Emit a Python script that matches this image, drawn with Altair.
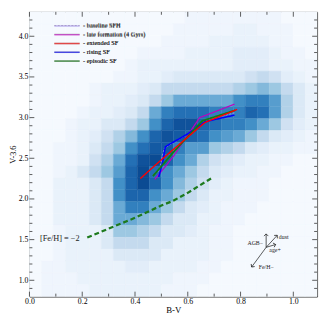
import math
import altair as alt
import pandas as pd

# ---------------- data ----------------
XMIN, XMAX = 0.0, 1.09
YMIN, YMAX = 0.8, 4.3

# binned density (rows from top = high V-3.6, columns from left = low B-V), level 0..9
DENSITY = [
    [0,0,0,0,0,0,0,0,0,0,0,0,0,0.5,0.5,0.5,0.5,0.5,0.5,0.5,0.5,0,0,0],
    [0,0,0,0,0,0,0,0,0,0,0,0,0.5,0.5,0.5,0.5,0.5,1,1,0.5,0.5,0.5,0,0],
    [0,0,0,0,0,0,0,0,0,0,0,0.5,0.5,0.5,0.5,1,1,1,1,1,0.5,0.5,0,0],
    [0,0,0,0,0,0,0,0,0,0.5,0.5,0.5,0.5,1,1,1,1,1.5,1.5,1.5,1,0.5,0.5,0],
    [0,0,0,0,0,0,0,0,0.5,1,1,1,1,1,1,1,1,1.5,1.5,1.5,1,1,0.5,0.5],
    [0,0,0,0,0,0,0,0.5,0.5,1,1,1.5,2,2,2,2,2,2,2.5,3,2.5,1.5,1,0.5],
    [0,0,0,0,0,0.5,1,1,1,1.5,2,3,3,3,3,3,3,3.5,4,4.5,4,3,2,1],
    [0,0,0,0,0,0.5,1,1,1.5,2,3,4,5,5,5,5,5,6,6.5,6.5,5.5,3.5,2,1],
    [0,0,0,0,0.5,1,1,1.5,2,3,5,6.5,7,7,7,6.5,6.5,6.5,7.5,7,5.5,3.5,2,1],
    [0,0,0,0.5,1,1,2,2,3,4,6,7.5,8.5,8.5,7.5,7,6.5,6.5,6,5,4,2.5,1.5,1],
    [0,0,0,0.5,1,1.5,2.5,3.5,4.5,6,7.5,8.5,8,7.5,7,6,5.5,5,4,3,2,1.5,1,0.5],
    [0,0,0.5,0.5,1,2,3,4,6,7,8,8,6.5,5.5,5.5,4,3.5,3,2,1.5,1,1,0.5,0.5],
    [0,0,0.5,0.5,1,2.5,3.5,5,7,8.5,9,7.5,6,5,3.5,2.5,2,1.5,1,1,0.5,0.5,0,0],
    [0,0,0.5,1,2,3,4,5.5,7.5,9,7,6,5,4,3,2,1.5,1,1,0.5,0.5,0,0,0],
    [0,0,1,1,1,2,3,6,7.5,9,7.5,6,4.5,3.5,2.5,1.5,1,0.5,0.5,0.5,0,0,0,0],
    [0,0,1,1,1,2,3,6,7.5,7.5,6,5,4,3,2,1,1,0.5,0.5,0.5,0,0,0,0],
    [0,0,1,1,1,2,3,5,6.5,6.5,5,4,3,2,1.5,1,0.5,0.5,0.5,0,0,0,0,0],
    [0,0,1,1,1,2,3,5,5,4.5,4,3,2,2,1,1,0.5,0.5,0,0,0,0,0,0],
    [0,0,0.5,1,1,1,2,4,4,3.5,3,2,2,1.5,1,0.5,0.5,0,0,0,0,0,0,0],
    [0,0,0.5,1,1,1,2,3,3,3,2,2,1,1,1,0.5,0.5,0,0,0,0,0,0,0],
    [0,0,0.5,1,1,1,1,2,2,2,2,1,1,1,1,0.5,0.5,0,0,0,0,0,0,0],
    [0,0.5,0.5,1,1,1,1,1,1.5,1.5,1,1,1,1,0.5,0.5,0,0,0,0,0,0,0,0],
    [0,0.5,0.5,0.5,1,1,1,1,1,1,1,1,0.5,0.5,0.5,0,0,0,0,0,0,0,0,0],
    [0,0.5,0.5,0.5,0.5,1,1,1,1,1,1,0.5,0.5,0.5,0,0,0,0,0,0,0,0,0,0],
]

MODELS = ["baseline SFH", "late formation (4 Gyrs)", "extended SF", "rising SF", "episodic SF"]

BASELINE_BV = [0.49, 0.51, 0.60, 0.66, 0.78]
BASELINE_V36 = [2.33, 2.62, 2.80, 2.96, 3.06]
LATE_BV = [0.475, 0.545, 0.645, 0.777]
LATE_V36 = [2.24, 2.52, 3.00, 3.165]
EXTENDED_BV = [0.42, 0.475, 0.535, 0.60, 0.665, 0.787]
EXTENDED_V36 = [2.25, 2.41, 2.58, 2.76, 2.94, 3.10]
RISING_BV = [0.49, 0.505, 0.515, 0.53, 0.60, 0.665, 0.777]
RISING_V36 = [2.27, 2.45, 2.64, 2.67, 2.80, 2.95, 3.03]
EPISODIC_BV = [0.468, 0.547, 0.655, 0.78]
EPISODIC_V36 = [2.28, 2.58, 2.96, 3.09]

FEH_BV = [0.219, 0.30, 0.40, 0.50, 0.54, 0.60, 0.64, 0.69]
FEH_V36 = [1.525, 1.635, 1.768, 1.92, 1.97, 2.075, 2.156, 2.255]
FEH_LABEL = "[Fe/H] = \u22122"
FEH_LABEL_BV, FEH_LABEL_V36 = 0.04, 1.514

VEC_ORIGIN = (0.897, 1.405)
VEC_NAMES = ["AGB", "dust", "age", "Fe/H"]
VEC_END_BV = [0.897, 0.939, 0.933, 0.842]
VEC_END_V36 = [1.57, 1.553, 1.44, 1.163]
VEC_LABELS = ["AGB\u2212", "dust", "age+", "Fe/H\u2212"]
VEC_LABEL_BV = [0.826, 0.945, 0.909, 0.869]
VEC_LABEL_V36 = [1.463, 1.526, 1.37, 1.164]

X_MAJOR = [0.0, 0.2, 0.4, 0.6, 0.8, 1.0]
X_MINOR = [0.1, 0.3, 0.5, 0.7, 0.9]
Y_MAJOR = [1.0, 1.5, 2.0, 2.5, 3.0, 3.5, 4.0]
Y_MINOR = [0.9, 1.1, 1.2, 1.3, 1.4, 1.6, 1.7, 1.8, 1.9, 2.1, 2.2, 2.3, 2.4,
           2.6, 2.7, 2.8, 2.9, 3.1, 3.2, 3.3, 3.4, 3.6, 3.7, 3.8, 3.9, 4.1, 4.2]

# ---------------- style ----------------
W, H = 295, 292
FONT = "Liberation Serif"
TICK = "#333333"
BLUES_STOPS = [0, 1, 2, 3, 4, 5, 6, 7, 8, 9]
BLUES = ["#f5f9fe", "#e9f2fb", "#dbe9f6", "#c4daee", "#9dc8e2", "#6aaad5",
         "#4290c7", "#2470b5", "#145aa3", "#0b4b93"]
LINE_COLORS = ["#9d86e8", "#bf00bf", "#ff0000", "#0000ff", "#118011"]
LINE_WIDTHS = [1.0, 1.8, 2.3, 1.7, 2.0]
LINE_DASH = [[2, 1.5], [1, 0], [1, 0], [1, 0], [1, 0]]

xs = alt.Scale(domain=[XMIN, XMAX], nice=False, zero=False)
ys = alt.Scale(domain=[YMIN, YMAX], nice=False, zero=False)

XAX = alt.Axis(values=X_MAJOR, format=".1f", ticks=False, domain=False, grid=False,
               labelFont=FONT, labelFontSize=8, labelColor="#000", labelPadding=1,
               labelFlush=False, labelOverlap=False,
               title="B-V", titleFont=FONT, titleFontSize=9, titleFontWeight="normal",
               titleColor="#000", titlePadding=0)
YAX = alt.Axis(values=Y_MAJOR, format=".1f", ticks=False, domain=False, grid=False,
               labelFont=FONT, labelFontSize=8, labelColor="#000", labelPadding=1.5,
               labelFlush=False, labelOverlap=False,
               title="V-3.6", titleFont=FONT, titleFontSize=8.5, titleFontWeight="normal",
               titleColor="#000", titlePadding=0.5)


def X(field):
    return alt.X(field, scale=xs, axis=XAX, title="B-V")


def Y(field):
    return alt.Y(field, scale=ys, axis=YAX, title="V-3.6")


# ---------------- heatmap ----------------
nrows, ncols = len(DENSITY), len(DENSITY[0])
dx = (XMAX - XMIN) / ncols
dy = (YMAX - YMIN) / nrows
cells = []
for r, row in enumerate(DENSITY):
    for c, v in enumerate(row):
        cells.append({"x0": XMIN + c * dx, "x1": XMIN + (c + 1) * dx,
                      "y0": YMAX - (r + 1) * dy, "y1": YMAX - r * dy, "v": v})
cells = pd.DataFrame(cells)
cscale = alt.Scale(domain=BLUES_STOPS, range=BLUES)

heat = alt.Chart(cells).mark_rect(strokeWidth=0.4).encode(
    x=X("x0:Q"), x2="x1:Q", y=Y("y0:Q"), y2="y1:Q",
    color=alt.Color("v:Q", scale=cscale, legend=None),
    stroke=alt.Stroke("v:Q", scale=cscale, legend=None),
)

# ---------------- ticks (inside, all sides) ----------------
def xticks(vals, length):
    df = pd.DataFrame({"v": vals})
    base = alt.Chart(df).mark_rule(color=TICK, strokeWidth=0.8)
    bottom = base.encode(x=X("v:Q"), y=alt.value(H), y2=alt.value(H - length))
    top = base.encode(x=X("v:Q"), y=alt.value(0), y2=alt.value(length))
    return [bottom, top]


def yticks(vals, length):
    df = pd.DataFrame({"v": vals})
    base = alt.Chart(df).mark_rule(color=TICK, strokeWidth=0.8)
    left = base.encode(y=Y("v:Q"), x=alt.value(0), x2=alt.value(length))
    right = base.encode(y=Y("v:Q"), x=alt.value(W), x2=alt.value(W - length))
    return [left, right]


tick_layers = xticks(X_MAJOR, 5) + xticks(X_MINOR, 3) + yticks(Y_MAJOR, 5) + yticks(Y_MINOR, 3)

# ---------------- model tracks ----------------
series = [
    ("baseline SFH", BASELINE_BV, BASELINE_V36),
    ("late formation (4 Gyrs)", LATE_BV, LATE_V36),
    ("rising SF", RISING_BV, RISING_V36),
    ("episodic SF", EPISODIC_BV, EPISODIC_V36),
    ("extended SF", EXTENDED_BV, EXTENDED_V36),
]
rows = []
for name, bx, by in series:
    for i, (a, b) in enumerate(zip(bx, by)):
        rows.append({"model": name, "bv": a, "v36": b, "i": i})
lines_df = pd.DataFrame(rows)

leg = alt.Legend(title=None, orient="none", legendX=33, legendY=9,
                 symbolType="M-3,0H3", symbolSize=75, symbolOpacity=0.6,
                 labelFont=FONT, labelFontSize=6.5, labelColor="#333",
                 labelFontWeight="normal",
                 labelOffset=11, rowPadding=0, padding=0, labelLimit=0,
                 labelExpr="'- ' + datum.label")

lines = alt.Chart(lines_df).mark_line(strokeCap="butt").encode(
    x=X("bv:Q"), y=Y("v36:Q"),
    order=alt.Order("i:Q"),
    stroke=alt.Stroke("model:N", scale=alt.Scale(domain=MODELS, range=LINE_COLORS), legend=leg),
    strokeWidth=alt.StrokeWidth("model:N", scale=alt.Scale(domain=MODELS, range=LINE_WIDTHS), legend=leg),
    strokeDash=alt.StrokeDash("model:N", scale=alt.Scale(domain=MODELS, range=LINE_DASH), legend=leg),
)

feh_df = pd.DataFrame({"bv": FEH_BV, "v36": FEH_V36, "i": list(range(len(FEH_BV)))})
feh = alt.Chart(feh_df).mark_line(color="#1d7a1d", strokeWidth=2.3, strokeDash=[5, 3]).encode(
    x=X("bv:Q"), y=Y("v36:Q"), order=alt.Order("i:Q"),
)
feh_text = alt.Chart(pd.DataFrame({"bv": [FEH_LABEL_BV], "v36": [FEH_LABEL_V36], "t": [FEH_LABEL]})).mark_text(
    align="left", baseline="middle", font=FONT, fontSize=8.5, color="#222").encode(
    x=X("bv:Q"), y=Y("v36:Q"), text="t:N")

# ---------------- vector diagram ----------------
pxx = W / (XMAX - XMIN)
pxy = H / (YMAX - YMIN)
vec_rows = []
for n, ex, ey in zip(VEC_NAMES, VEC_END_BV, VEC_END_V36):
    ang = math.degrees(math.atan2((ex - VEC_ORIGIN[0]) * pxx, (ey - VEC_ORIGIN[1]) * pxy)) % 360
    vec_rows.append({"name": n, "x0": VEC_ORIGIN[0], "y0": VEC_ORIGIN[1], "x1": ex, "y1": ey, "ang": ang})
vec_df = pd.DataFrame(vec_rows)
vec = alt.Chart(vec_df).mark_rule(color="#111", strokeWidth=0.7).encode(
    x=X("x0:Q"), y=Y("y0:Q"), x2="x1:Q", y2="y1:Q")
heads = alt.Chart(vec_df).mark_point(shape="M-1,1L0,0L1,1", filled=False, size=20,
                                     color="#111", strokeWidth=0.7, opacity=1).encode(
    x=X("x1:Q"), y=Y("y1:Q"), angle=alt.Angle("ang:Q", scale=None))
vec_text = alt.Chart(pd.DataFrame({"bv": VEC_LABEL_BV, "v36": VEC_LABEL_V36, "t": VEC_LABELS})).mark_text(
    align="left", baseline="middle", font=FONT, fontSize=6, color="#222").encode(
    x=X("bv:Q"), y=Y("v36:Q"), text="t:N")

chart = alt.layer(heat, *tick_layers, lines, feh, feh_text, vec, heads, vec_text).resolve_scale(
    color="independent", stroke="independent"
).properties(
    width=W, height=H,
    autosize=alt.AutoSizeParams(type="none"),
    padding={"left": 22, "top": 0, "right": 3, "bottom": 16},
    background="white",
).configure_view(stroke="#333", strokeWidth=1)

chart.save("out.html", embed_options={"renderer": "svg", "actions": False})
